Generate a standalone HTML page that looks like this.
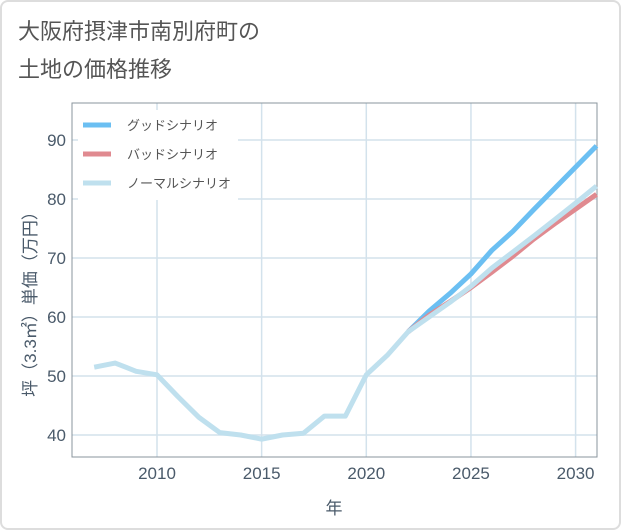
<!DOCTYPE html>
<html><head><meta charset="utf-8"><style>
body{margin:0;background:#fff;}
#wrap{position:relative;width:621px;height:530px;font-family:"Liberation Sans","Noto Sans CJK JP",sans-serif;}
#card{position:absolute;left:0;top:0;width:617px;height:526px;border:2px solid #ddd;border-radius:8px;}
.title{position:absolute;left:18px;font-size:22px;color:#555;}
</style></head><body>
<div id="wrap">
<div id="card"></div>
<div class="title" style="top:14px">大阪府摂津市南別府町の</div>
<div class="title" style="top:52px">土地の価格推移</div>
<svg id="svg" width="621" height="530" style="position:absolute;left:0;top:0"></svg>
</div>
<script>
const years=[2007,2008,2009,2010,2011,2012,2013,2014,2015,2016,2017,2018,2019,2020,2021,2022,2023,2024,2025,2026,2027,2028,2029,2030,2031];
const normal=[51.5,52.2,50.8,50.2,46.5,43,40.4,40,39.3,40,40.3,43.2,43.2,50.2,53.5,57.5,60,62.5,65.2,68.3,71,73.7,76.5,79.3,82.2];
const futureYears=[2022,2023,2024,2025,2026,2027,2028,2029,2030,2031];
const good=[57.5,61,64,67.3,71.3,74.5,78.2,81.8,85.4,89];
const bad=[57.5,60.3,62.6,65,67.6,70.3,73.2,75.8,78.3,80.8];
const xTicks=[2010,2015,2020,2025,2030];
const yTicks=[40,50,60,70,80,90];
const L=72,R=597,T=103,B=457;
const x=v=>157+(v-2010)*20.93;
const y=v=>435-(v-40)*5.9;
const svg=document.getElementById('svg');
const NS='http://www.w3.org/2000/svg';
function mk(t,a){const e=document.createElementNS(NS,t);for(const k in a)e.setAttribute(k,a[k]);svg.appendChild(e);return e;}
xTicks.forEach(t=>{
 const g=mk('line',{x1:x(t),x2:x(t),y1:T,y2:B,stroke:'#d3e2ec','stroke-width':1.5});
 
 
 const tx=mk('text',{x:x(t),y:B+22,'text-anchor':'middle','font-size':17,fill:'#4a5a6a'});
 tx.textContent=t;
 
 
});
yTicks.forEach(t=>{
 const g=mk('line',{x1:L,x2:R,y1:y(t),y2:y(t),stroke:'#d3e2ec','stroke-width':1.5});
 
 
 const tx=mk('text',{x:L-6,y:y(t)+6,'text-anchor':'end','font-size':17,fill:'#4a5a6a'});
 tx.textContent=t;
 
 
});
const fr=mk('rect',{x:L,y:T,width:R-L,height:B-T,fill:'none',stroke:'#8a949c','stroke-width':1});


function line(xs,vs,c,name){
 const p=mk('polyline',{points:xs.map((v,i)=>x(v)+','+y(vs[i])).join(' '),fill:'none',stroke:c,'stroke-width':5,'stroke-linejoin':'round'});
 
 
}
line(futureYears,good,'#6bbff2','good-scenario-line');
line(futureYears,bad,'#e08a90','bad-scenario-line');
line(years,normal,'#bfe0ee','normal-scenario-line');
const lb=mk('rect',{x:78,y:110,width:160,height:90,fill:'#fff'});


[['グッドシナリオ','#6bbff2',125],['バッドシナリオ','#e08a90',154],['ノーマルシナリオ','#bfe0ee',183]].forEach(([t,c,yy])=>{
 const l=mk('line',{x1:83,x2:111,y1:yy,y2:yy,stroke:c,'stroke-width':5});
 
 
 const tx=mk('text',{x:127,y:yy+5,'font-size':13,fill:'#555'});
 tx.textContent=t;
 
 
});
const xt=mk('text',{x:334,y:514,'text-anchor':'middle','font-size':17,fill:'#4a5a6a'});
xt.textContent='年';


const yt=mk('text',{x:0,y:0,'text-anchor':'middle','font-size':17,fill:'#4a5a6a',transform:'translate(36,300) rotate(-90)'});
yt.textContent='坪（3.3㎡）単価（万円）';


</script>
</body></html>
